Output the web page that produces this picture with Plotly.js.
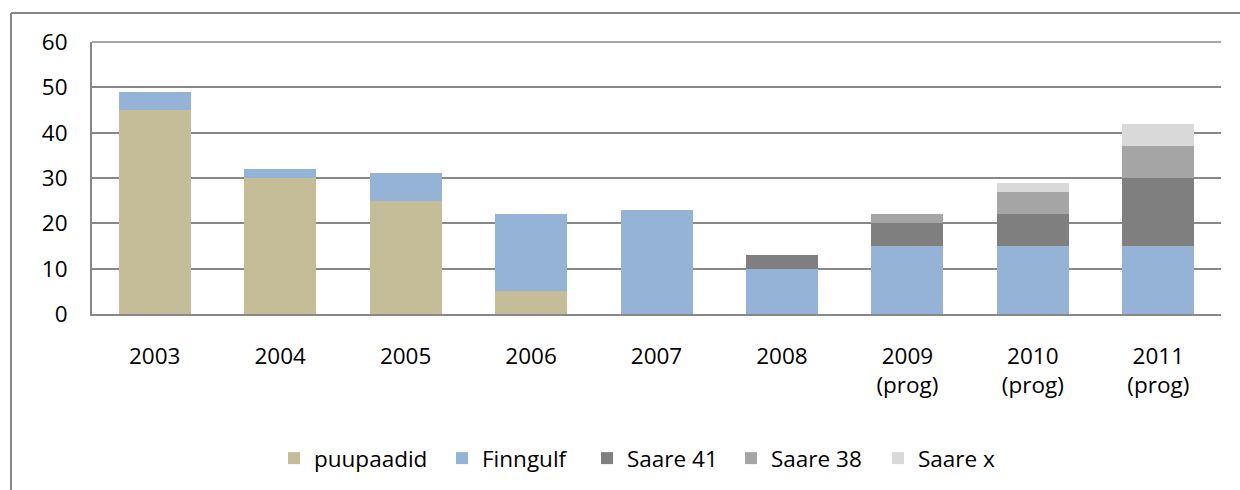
<!DOCTYPE html>
<html>
<head>
<meta charset="utf-8">
<script src="https://cdn.plot.ly/plotly-3.0.1.min.js"></script>
<style>
  html, body { margin: 0; padding: 0; background: #fff; }
  #chart { width: 1240px; height: 490px; }
</style>
</head>
<body>
<div id="chart"></div>
<script>
const categories = ["2003", "2004", "2005", "2006", "2007", "2008", "2009<br>(prog)", "2010<br>(prog)", "2011<br>(prog)"];
const seriesNames = ["puupaadid", "Finngulf", "Saare 41", "Saare 38", "Saare x"];
const puupaadid = [45, 30, 25, 5, 0, 0, 0, 0, 0];
const finngulf  = [4, 2, 6, 17, 23, 10, 15, 15, 15];
const saare41   = [0, 0, 0, 0, 0, 3, 5, 7, 15];
const saare38   = [0, 0, 0, 0, 0, 0, 2, 5, 7];
const saareX    = [0, 0, 0, 0, 0, 0, 0, 2, 5];
const colors = ["#C4BD97", "#95B3D7", "#7F7F7F", "#A5A5A5", "#D9D9D9"];
const legendWidths = [123, 100, 99, 102, 80];
const values = [puupaadid, finngulf, saare41, saare38, saareX];

const traces = values.map((v, i) => ({
  type: "bar",
  name: seriesNames[i],
  x: categories,
  y: v,
  legendwidth: legendWidths[i],
  marker: { color: colors[i], line: { width: 0 } },
  hoverinfo: "x+y+name"
}));

const L = 92, R = 1221, T = 42, B = 314;
const pw = R - L, ph = B - T;
const px = v => (v - L) / pw;
const py = v => (B - v) / ph;

const layout = {
  width: 1240, height: 490,
  margin: { l: L, r: 1240 - R, t: T, b: 490 - B, pad: 0, autoexpand: false },
  paper_bgcolor: "#ffffff",
  plot_bgcolor: "#ffffff",
  barmode: "stack",
  bargap: 0.426,
  font: { family: "Open Sans, sans-serif", size: 22.5, color: "#000000" },
  showlegend: true,
  legend: {
    orientation: "h",
    x: px(274), xanchor: "left",
    y: py(437), yanchor: "top",
    font: { size: 22.5, color: "#000000" },
    traceorder: "normal",
    itemclick: false
  },
  xaxis: {
    type: "category",
    showline: true, linecolor: "#888888", linewidth: 2,
    showgrid: false, zeroline: false,
    ticks: "outside", ticklen: 21, tickcolor: "rgba(0,0,0,0)",
    tickfont: { size: 22.5 }
  },
  yaxis: {
    range: [0, 60], dtick: 10, tick0: 0,
    showline: true, linecolor: "#888888", linewidth: 2,
    showgrid: true, gridcolor: "#888888", gridwidth: 1.5,
    zeroline: false,
    ticks: "outside", ticklen: 18, tickcolor: "rgba(0,0,0,0)",
    tickfont: { size: 22.5 }
  },
  shapes: [
    { type: "line", xref: "paper", yref: "paper", x0: 0, x1: 1, y0: 1, y1: 1,
      line: { color: "#888888", width: 1.5 } },
    { type: "line", xref: "paper", yref: "paper", x0: px(11), x1: px(1240), y0: py(13), y1: py(13),
      line: { color: "#888888", width: 2 } },
    { type: "line", xref: "paper", yref: "paper", x0: px(11), x1: px(11), y0: py(13), y1: py(490),
      line: { color: "#888888", width: 2 } }
  ]
};

Plotly.newPlot("chart", traces, layout, { displayModeBar: false });
</script>
</body>
</html>
